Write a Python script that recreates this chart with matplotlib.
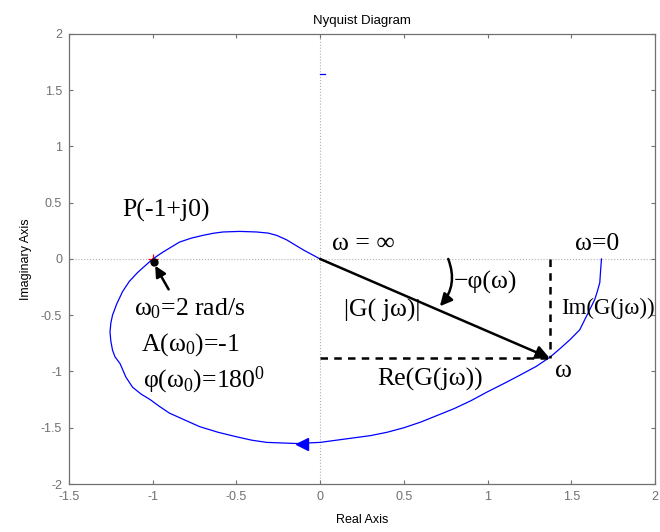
import matplotlib
matplotlib.use("Agg")
import matplotlib.pyplot as plt

# Кривая Найквиста (от w=0 до w=inf)
curve_re = [1.68, 1.675, 1.67, 1.655, 1.64, 1.60, 1.55, 1.49, 1.43,
            1.375, 1.29, 1.19, 1.10, 1.00, 0.90, 0.80, 0.70, 0.60, 0.50,
            0.40, 0.30, 0.20, 0.10, 0.00, -0.14, -0.32, -0.41, -0.50, -0.61,
            -0.72, -0.81, -0.90, -0.96, -1.015, -1.07, -1.12, -1.16, -1.195, -1.225,
            -1.24, -1.25, -1.255, -1.25, -1.24, -1.215, -1.18, -1.14, -1.09, -1.00,
            -0.94, -0.84, -0.77, -0.70, -0.64, -0.58, -0.48, -0.38, -0.31, -0.26,
            -0.20, -0.15, -0.10, -0.05, 0.00]
curve_im = [0.00, -0.10, -0.21, -0.29, -0.36, -0.48, -0.63, -0.72, -0.80,
            -0.87, -0.955, -1.035, -1.105, -1.18, -1.26, -1.33, -1.39, -1.45, -1.50,
            -1.54, -1.57, -1.59, -1.61, -1.63, -1.64, -1.63, -1.61, -1.58, -1.54,
            -1.49, -1.43, -1.37, -1.31, -1.25, -1.20, -1.14, -1.05, -0.93, -0.87,
            -0.81, -0.73, -0.65, -0.57, -0.50, -0.40, -0.29, -0.20, -0.12, 0.00,
            0.06, 0.15, 0.185, 0.21, 0.228, 0.24, 0.245, 0.24, 0.23, 0.21,
            0.17, 0.125, 0.08, 0.04, 0.00]

# точка на кривой для частоты w
w_re, w_im = 1.37, -0.88
# критическая точка
crit_re, crit_im = -1.0, 0.0
dir_arrow_re, dir_arrow_im = -0.11, -1.64
stub_re = [0.0, 0.03]
stub_im = [1.64, 1.64]

x_ticks = [-1.5, -1, -0.5, 0, 0.5, 1, 1.5, 2]
x_tick_labels = ["-1.5", "-1", "-0.5", "0", "0.5", "1", "1.5", "2"]
y_ticks = [-2, -1.5, -1, -0.5, 0, 0.5, 1, 1.5, 2]
y_tick_labels = ["-2", "-1.5", "-1", "-0.5", "0", "0.5", "1", "1.5", "2"]

plt.rcParams["font.family"] = ["Liberation Sans", "DejaVu Sans"]
plt.rcParams["mathtext.fontset"] = "custom"
plt.rcParams["mathtext.rm"] = "Liberation Serif"
plt.rcParams["mathtext.it"] = "Liberation Serif"

SERIF = ["Liberation Serif", "DejaVu Serif"]
GRAY = "#707070"


def main():
    fig = plt.figure(figsize=(6.6, 5.32), dpi=100)
    ax = fig.add_axes([0.1045, 0.0902, 0.888, 0.846])

    ax.set_xlim(-1.5, 2)
    ax.set_ylim(-2, 2)

    # нулевые линии
    ax.axhline(0, color="#b0b0b0", lw=0.8, ls=":", zorder=0)
    ax.axvline(0, color="#b0b0b0", lw=0.8, ls=":", zorder=0)

    ax.plot(curve_re, curve_im, color="blue", lw=0.9, zorder=2)
    ax.plot(stub_re, stub_im, color="blue", lw=0.9, zorder=2)
    ax.plot([dir_arrow_re], [dir_arrow_im], marker="<", color="blue",
            markersize=8, zorder=3)

    ax.plot([crit_re], [crit_im], marker="+", color="red", markersize=7,
            mew=0.9, zorder=3)
    ax.plot([crit_re + 0.01], [crit_im - 0.025], marker="o", color="black",
            markersize=5, zorder=4)

    # вектор G(jw)
    ax.annotate("", xy=(w_re, w_im), xytext=(0, 0),
                arrowprops=dict(arrowstyle="-|>", lw=1.8, color="black",
                                mutation_scale=20, shrinkA=0, shrinkB=0),
                zorder=5)
    ax.plot([0, w_re], [w_im, w_im], color="black", lw=1.8,
            dashes=(3, 2.5), zorder=4)
    ax.plot([w_re, w_re], [0, w_im], color="black", lw=1.8,
            dashes=(3, 2.5), zorder=4)

    # дуга фазы
    ax.annotate("", xy=(0.715, -0.42), xytext=(0.765, 0.0),
                arrowprops=dict(arrowstyle="-|>", lw=1.8, color="black",
                                mutation_scale=18, shrinkA=0, shrinkB=0,
                                connectionstyle="arc3,rad=-0.3"),
                zorder=5)

    # стрелка к точке w0
    ax.annotate("", xy=(-0.985, -0.06), xytext=(-0.905, -0.27),
                arrowprops=dict(arrowstyle="-|>", lw=1.8, color="black",
                                mutation_scale=16, shrinkA=0, shrinkB=0),
                zorder=5)

    fs = 18.5
    ax.text(-1.18, 0.43, "P(-1+j0)", family=SERIF, fontsize=fs,
            va="center", ha="left")
    ax.text(0.07, 0.13, "ω = ∞", family=SERIF, fontsize=fs,
            va="center", ha="left")
    ax.text(1.52, 0.13, "ω=0", family=SERIF, fontsize=fs,
            va="center", ha="left")
    ax.text(0.80, -0.21, "−φ(ω)", family=SERIF, fontsize=fs,
            va="center", ha="left")
    ax.text(0.14, -0.46, "|G( jω)|", family=SERIF, fontsize=fs,
            va="center", ha="left")
    ax.text(1.44, -0.44, "Im(G(jω))", family=SERIF, fontsize=16.5,
            va="center", ha="left", clip_on=False)
    ax.text(1.40, -1.0, "ω", family=SERIF, fontsize=fs,
            va="center", ha="left")
    ax.text(0.34, -1.07, "Re(G(jω))", family=SERIF, fontsize=fs,
            va="center", ha="left")
    ax.text(-1.11, -0.44, r"$\omega_0$=2 rad/s", family=SERIF, fontsize=fs,
            va="center", ha="left")
    ax.text(-1.07, -0.76, r"A($\omega_0$)=-1", family=SERIF, fontsize=fs,
            va="center", ha="left")
    ax.text(-1.06, -1.08, r"φ($\omega_0$)=180$^0$", family=SERIF,
            fontsize=fs, va="center", ha="left")

    ax.set_xticks(x_ticks)
    ax.set_xticklabels(x_tick_labels)
    ax.set_yticks(y_ticks)
    ax.set_yticklabels(y_tick_labels)
    ax.tick_params(direction="in", length=3, width=0.8, colors=GRAY,
                   labelsize=9, top=True, right=True, pad=5)
    for spine in ax.spines.values():
        spine.set_color(GRAY)
        spine.set_linewidth(0.9)

    ax.set_title("Nyquist Diagram", fontsize=9.5, pad=7)
    ax.set_xlabel("Real Axis", fontsize=9, labelpad=8)
    ax.set_ylabel("Imaginary Axis", fontsize=9, labelpad=6)

    fig.savefig("out.png", dpi=100, facecolor="white")


if __name__ == "__main__":
    main()
